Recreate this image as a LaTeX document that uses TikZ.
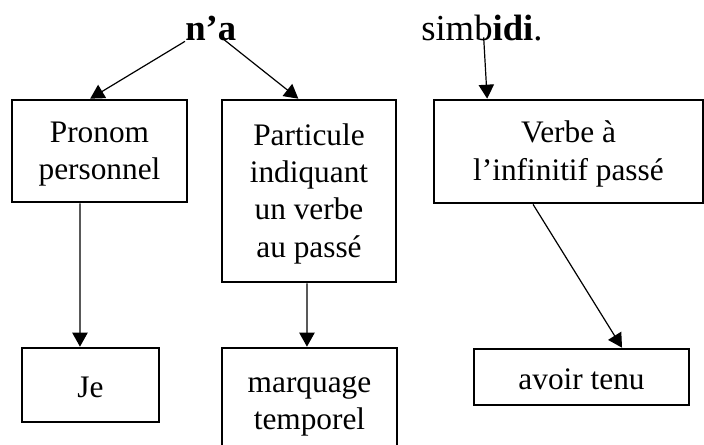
\documentclass[tikz,border=0pt]{standalone}
\usepackage{fontspec}
\setmainfont{Liberation Serif}
\usetikzlibrary{arrows.meta,positioning}

\begin{document}
\begin{tikzpicture}[
    x=0.75pt,
    y=-0.75pt,
    every node/.style={font=\fontsize{23.5}{28}\selectfont},
    word/.style={inner sep=0pt, font=\fontsize{27.5}{33}\selectfont},
    box/.style={draw=black, line width=2pt, align=center, inner sep=2pt},
    link/.style={-{Triangle[length=10.5pt, width=11.5pt]}, draw=black, line width=0.9pt}
  ]
    \useasboundingbox (0,0) rectangle (704,444);
    \clip (0,0) rectangle (704,444);
    \node[word, anchor=base west] (na) at (185,40) {\textbf{n’a}};
    \node[word, anchor=base west] (simb) at (421,40) {simb\textbf{idi}.};
    \node[box, minimum width=131.25pt, minimum height=76.5pt] (pron) at (99.5,151) {\rule{0pt}{20pt}Pronom\\personnel};
    \node[box, minimum width=130.5pt, minimum height=136.5pt] (part) at (309,191) {\rule{0pt}{20pt}Particule\\indiquant\\un verbe\\au passé};
    \node[box, minimum width=201.75pt, minimum height=77.25pt] (verb) at (568.5,151.5) {\rule{0pt}{20pt}Verbe à\\l’infinitif passé};
    \node[box, minimum width=102.75pt, minimum height=55.5pt] (je) at (90.5,385) {\rule{0pt}{19pt}Je};
    \node[box, minimum width=131.25pt, minimum height=79.5pt] (marq) at (309.5,401) {\rule{0pt}{20pt}marquage\\temporel};
    \node[box, minimum width=161.25pt, minimum height=42pt] (avoir) at (581.5,377) {\rule{0pt}{19pt}avoir tenu};
    \draw[link] ([yshift=-1pt]na.base west) -- ([xshift=-7pt]pron.north);
    \draw[link] ([xshift=-9pt]na.base east) -- ([xshift=-8pt]part.north);
    \draw[link] ([xshift=47pt, yshift=2pt]simb.base west) -- ([xshift=-61pt]verb.north);
    \draw[link] ([xshift=-14.6pt]pron.south) -- ([xshift=-7.9pt]je.north);
    \draw[link] ([xshift=-1.5pt]part.south) -- ([xshift=-1.9pt]marq.north);
    \draw[link] ([xshift=-26.6pt]verb.south) -- ([xshift=30.4pt]avoir.north);
\end{tikzpicture}
\end{document}
